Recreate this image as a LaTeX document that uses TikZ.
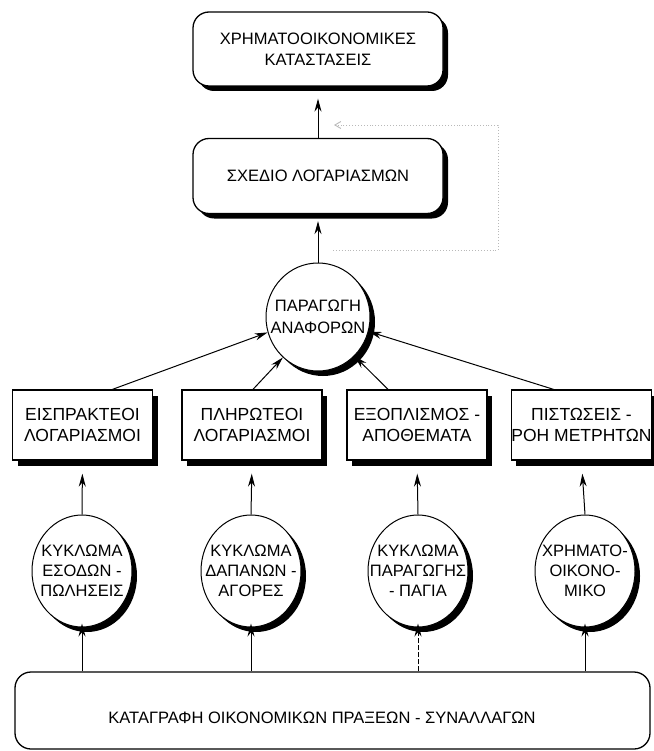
\documentclass[tikz,border=0pt]{standalone}
\usepackage{fontspec}
\setmainfont{Liberation Sans}
\usetikzlibrary{shadows,arrows.meta,shapes.geometric}

\begin{document}
\begin{tikzpicture}[x=1pt,y=-1pt,
  lbl/.style={font=\fontsize{16.5}{21}\selectfont, align=center, inner sep=0pt},
  biglbl/.style={lbl, font=\fontsize{17.5}{20.5}\selectfont},
  shade5/.style={drop shadow={shadow xshift=5pt, shadow yshift=-5pt, fill=black, opacity=1}},
  roundbox/.style={lbl, draw, line width=1.3pt, fill=white, rounded corners=16pt, shade5},
  acctbox/.style={biglbl, draw, line width=1.3pt, fill=white, minimum width=140pt, minimum height=70pt,
    drop shadow={shadow xshift=5pt, shadow yshift=-6pt, fill=black, opacity=1}},
  % the ellipse keeps its given size: negative horizontal padding stops the
  % text box from widening it
  proc/.style={lbl, font=\fontsize{16.5}{20}\selectfont, ellipse, draw, line width=1pt, fill=white,
    inner xsep=-14pt, inner ysep=0pt, minimum width=100pt, minimum height=112pt, shade5},
  flow/.style={-{Stealth[length=13pt,width=7pt]}, line width=1pt},
  loop/.style={gray!55, dotted, line width=0.9pt}
]
\useasboundingbox (0,0) rectangle (653,751);

% top level: statements and chart of accounts
\node[roundbox, minimum width=250pt, minimum height=74pt] (fs) at (318,49)
  {ΧΡΗΜΑΤΟΟΙΚΟΝΟΜΙΚΕΣ\\ΚΑΤΑΣΤΑΣΕΙΣ};
\node[roundbox, minimum width=250pt, minimum height=75pt] (coa) at (318,176)
  {ΣΧΕΔΙΟ ΛΟΓΑΡΙΑΣΜΩΝ};

% reporting process
\node[proc, font=\fontsize{16.5}{22}\selectfont, minimum width=104pt, minimum height=108pt] (rep) at (318,317)
  {ΠΑΡΑΓΩΓΗ\\ΑΝΑΦΟΡΩΝ};

% subsidiary ledgers
\node[acctbox] (ar) at (82.5,425) {ΕΙΣΠΡΑΚΤΕΟΙ\\ΛΟΓΑΡΙΑΣΜΟΙ};
\node[acctbox] (ap) at (252,425) {ΠΛΗΡΩΤΕΟΙ\\ΛΟΓΑΡΙΑΣΜΟΙ};
\node[acctbox] (inv) at (417,425) {ΕΞΟΠΛΙΣΜΟΣ -\\ΑΠΟΘΕΜΑΤΑ};
\node[acctbox, minimum width=138pt] (cash) at (581.5,425) {ΠΙΣΤΩΣΕΙΣ -\\ΡΟΗ ΜΕΤΡΗΤΩΝ};

% transaction cycles
\node[proc] (rev) at (82,571) {ΚΥΚΛΩΜΑ\\ΕΣΟΔΩΝ -\\ΠΩΛΗΣΕΙΣ};
\node[proc] (exp) at (251,571) {ΚΥΚΛΩΜΑ\\ΔΑΠΑΝΩΝ -\\ΑΓΟΡΕΣ};
\node[proc] (prod) at (418,571) {ΚΥΚΛΩΜΑ\\ΠΑΡΑΓΩΓΗΣ\\- ΠΑΓΙΑ};
\node[proc] (fin) at (585,571) {ΧΡΗΜΑΤΟ-\\ΟΙΚΟΝΟ-\\ΜΙΚΟ};

% transaction recording
\node[draw, line width=1.3pt, fill=white, rounded corners=16pt,
      minimum width=635pt, minimum height=77pt] (rec) at (332.5,710.5) {};
\node[lbl] (rectext) at (322,718) {ΚΑΤΑΓΡΑΦΗ ΟΙΚΟΝΟΜΙΚΩΝ ΠΡΑΞΕΩΝ - ΣΥΝΑΛΛΑΓΩΝ};

% upward flow
\draw[flow, shorten >=12pt] (coa.north) -- (fs.south);
\draw[flow, shorten >=7pt] (rep.north) -- (coa.south);

\draw[flow] ([xshift=30pt]ar.north) -- (rep.197);
\draw[flow] ([xshift=1pt]ap.north) -- (rep.229);
\draw[flow] ([xshift=-29pt]inv.north) -- (rep.313);
\draw[flow] ([xshift=-28pt]cash.north) -- (rep.344);

\draw[flow, shorten >=13pt] (rev.north) -- (ar.south);
\draw[flow, shorten >=13pt] (exp.north) -- (ap.south);
\draw[flow, shorten >=13pt] (prod.north) -- (inv.south);
\draw[flow, shorten >=13pt] (fin.north) -- (cash.south);

\draw[flow, shorten >=-4pt] (rec.north -| rev.south) -- (rev.south);
\draw[flow, shorten >=-4pt] (rec.north -| exp.south) -- (exp.south);
\draw[flow, shorten >=-4pt, dash pattern=on 5pt off 2pt] (rec.north -| prod.south) -- (prod.south);
\draw[flow, shorten >=-4pt] (rec.north -| fin.south) -- (fin.south);

% dotted feedback loop around the chart of accounts
\coordinate (fbstart) at (333,250);
\coordinate (fbright) at (498,250);
\coordinate (fbtop) at (498,125);
\coordinate (fbend) at (334,125);
\draw[loop, -{Straight Barb[length=6pt,width=7pt]}] (fbstart) -- (fbright) -- (fbtop) -- (fbend);
\end{tikzpicture}
\end{document}
